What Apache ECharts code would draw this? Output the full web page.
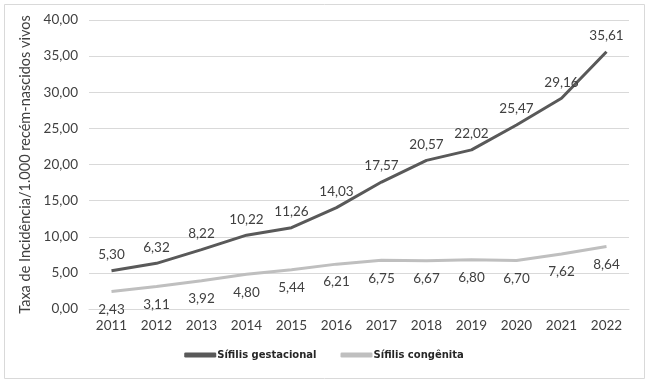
<!DOCTYPE html>
<html>
<head>
<meta charset="utf-8">
<script src="https://cdn.jsdelivr.net/npm/echarts@6/dist/echarts.min.js"></script>
<style>
  html, body { margin: 0; padding: 0; background: #fff; }
  #chart { width: 648px; height: 384px; }
</style>
</head>
<body>
<div id="chart"></div>
<script>
// anos
var anos = ["2011", "2012", "2013", "2014", "2015", "2016", "2017", "2018", "2019", "2020", "2021", "2022"];
// taxas por 1.000 nascidos vivos
var gestacional = [5.30, 6.32, 8.22, 10.22, 11.26, 14.03, 17.57, 20.57, 22.02, 25.47, 29.16, 35.61];
var congenita = [2.43, 3.11, 3.92, 4.80, 5.44, 6.21, 6.75, 6.67, 6.80, 6.70, 7.62, 8.64];

var fmt = function (v) { return v.toFixed(2).replace(".", ","); };

var chart = echarts.init(document.getElementById("chart"));
var txt = "#404040";
var option = {
  animation: false,
  textStyle: { fontFamily: "Lato" },
  graphic: [{
    type: "rect",
    shape: { x: 4.5, y: 4.5, width: 640, height: 374 },
    style: { fill: "none", stroke: "#d9d9d9", lineWidth: 1 },
    silent: true
  }],
  grid: { left: 89, right: 19, top: 20, bottom: 75 },
  legend: {
    bottom: 19,
    left: "center",
    itemWidth: 32,
    itemHeight: 5,
    itemGap: 24,
    icon: "roundRect",
    textStyle: { fontFamily: "DejaVu Sans", fontSize: 10, fontWeight: 600, color: "#262626", padding: [0, 0, 0, -4] },
    data: ["Sífilis gestacional", "Sífilis congênita"]
  },
  xAxis: {
    type: "category",
    data: anos,
    boundaryGap: true,
    axisLine: { lineStyle: { color: "#d9d9d9" } },
    axisTick: { show: false },
    axisLabel: { color: txt, fontSize: 13.5, margin: 10 }
  },
  yAxis: {
    type: "value",
    min: 0,
    max: 40,
    interval: 5,
    name: "Taxa de Incidência/1.000 recém-nascidos vivos",
    nameLocation: "middle",
    nameGap: 44,
    nameTextStyle: { color: txt, fontSize: 14.5 },
    axisLine: { show: false },
    axisTick: { show: false },
    splitLine: { lineStyle: { color: "#d9d9d9" } },
    axisLabel: { color: txt, fontSize: 13.5, margin: 11, formatter: function (v) { return fmt(v); } }
  },
  series: [
    {
      name: "Sífilis gestacional",
      type: "line",
      data: gestacional,
      symbol: "circle",
      symbolSize: 0,
      showSymbol: true,
      itemStyle: { color: "#595959" },
      lineStyle: { color: "#595959", width: 3 },
      label: { show: true, position: "top", distance: 9, color: txt, fontSize: 13.5, formatter: function (p) { return fmt(p.value); } }
    },
    {
      name: "Sífilis congênita",
      type: "line",
      data: congenita,
      symbol: "circle",
      symbolSize: 0,
      showSymbol: true,
      itemStyle: { color: "#bfbfbf" },
      lineStyle: { color: "#bfbfbf", width: 3 },
      label: { show: true, position: "bottom", distance: 11, color: txt, fontSize: 13.5, formatter: function (p) { return fmt(p.value); } }
    }
  ]
};
chart.setOption(option);
window.onresize = function () { chart.resize(); };
</script>
</body>
</html>
